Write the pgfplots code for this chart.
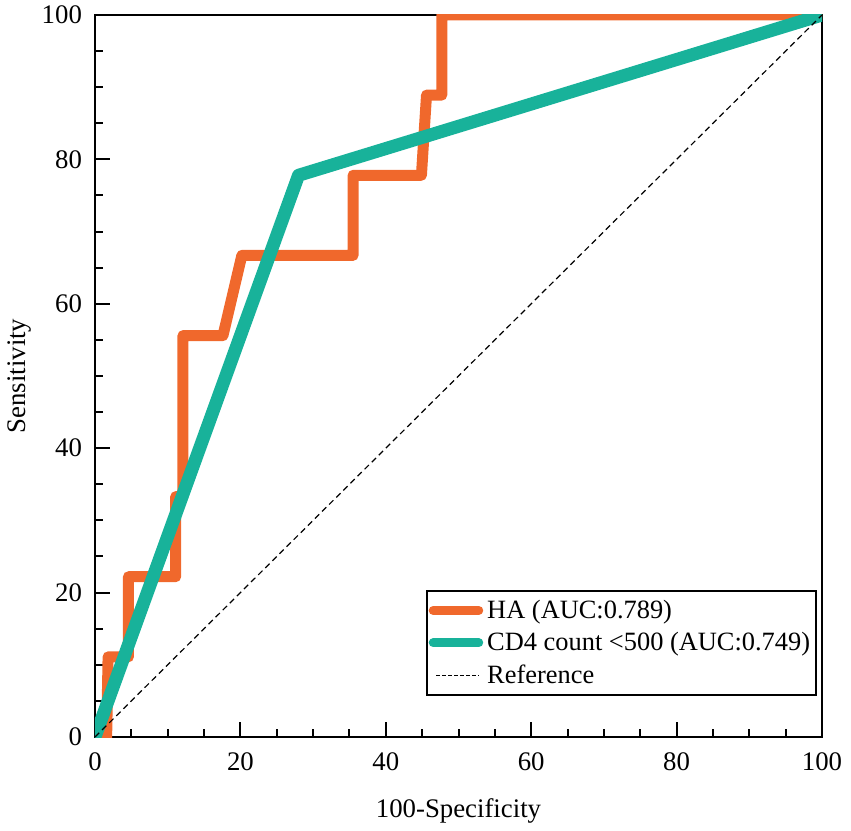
\documentclass[border=0pt]{standalone}
\usepackage{pgfplots}
\pgfplotsset{compat=1.18}
\usepackage{fontspec}
\setmainfont{Liberation Serif}
\definecolor{haorange}{RGB}{240,104,44}
\definecolor{cdteal}{RGB}{24,178,154}
\begin{document}
\begin{tikzpicture}
\begin{axis}[
  scale only axis, width=363.5pt, height=361pt,
  xmin=0, xmax=100, ymin=0, ymax=100,
  axis line style={line width=1.1pt},
  xtick={0,20,...,100}, ytick={0,20,...,100},
  minor tick num=3,
  tick align=inside,
  xtick pos=bottom, ytick pos=left,
  major tick length=7.5pt, minor tick length=4pt,
  every tick/.style={black, line width=1pt},
  tick label style={font=\fontsize{13.4}{16}\selectfont},
  /pgf/number format/assume math mode=true,
  xticklabel style={anchor=center, yshift=-12.5pt},
  yticklabel style={xshift=-3pt},
  label style={font=\fontsize{13.4}{16}\selectfont},
  xlabel={100-Specificity},
  ylabel={Sensitivity},
  xlabel style={at={(axis description cs:0.5,-0.103)}, anchor=center},
  ylabel style={at={(axis description cs:-0.104,0.5)}, anchor=center},
  legend style={at={(0.993,0.057)}, anchor=south east, draw=black, line width=0.8pt,
    font=\fontsize{13.2}{16}\selectfont, inner xsep=1pt, inner ysep=2.5pt, row sep=1.5pt,
    cells={anchor=west}},
  legend cell align=left,
]
\addplot[haorange, line width=5.5pt, line join=round, line cap=round,
  legend image code/.code={\draw[haorange, line width=4.5pt, line cap=round] (0cm,0cm) -- (0.8cm,0cm);}]
  coordinates {(1.5,-2) (1.6,0) (1.8,11.1) (4.6,11.1) (4.6,22.2) (11.1,22.2) (11.1,33.3) (12.1,33.3) (12.1,55.6) (17.6,55.6) (20.2,66.7) (35.5,66.7) (35.5,77.8) (44.9,77.8) (45.6,88.9) (47.7,88.9) (47.7,100) (102,100)};
\addlegendentry{HA (AUC:0.789)}
\addplot[cdteal, line width=6.5pt, line join=round, line cap=round,
  legend image code/.code={\draw[cdteal, line width=4.5pt, line cap=round] (0cm,0cm) -- (0.8cm,0cm);}]
  coordinates {(0,0) (28.0,77.8) (100,100)};
\addlegendentry{CD4 count <500 (AUC:0.749)}
\addplot[black, line width=0.6pt, dash pattern=on 3pt off 2pt,
  legend image code/.code={\draw[black, line width=0.6pt, dash pattern=on 2pt off 1pt] (0.05cm,0cm) -- (0.8cm,0cm);}]
  coordinates {(0,0) (100,100)};
\addlegendentry{Reference}
\end{axis}
\pgfresetboundingbox
\path ([xshift=-47.5pt, yshift=-46.5pt]current axis.south west) rectangle ([xshift=14.5pt, yshift=7.5pt]current axis.north east);
\end{tikzpicture}
\end{document}
